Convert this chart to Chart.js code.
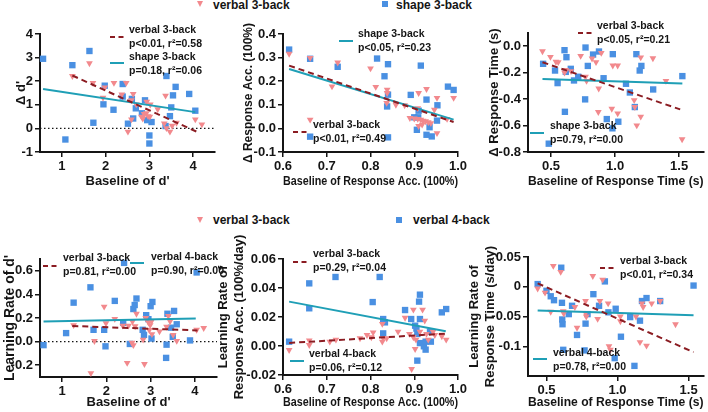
<!DOCTYPE html>
<html>
<head>
<meta charset="utf-8">
<script src="https://cdn.jsdelivr.net/npm/chart.js@4.4.0/dist/chart.umd.min.js"></script>
<style>
  body { margin: 0; background: #fff; width: 708px; height: 412px; position: relative; overflow: hidden;
         font-family: "Liberation Sans", Arial, sans-serif; }
  canvas { position: absolute; left: 0; top: 0; }
  .key { position: absolute; font-size: 12px; font-weight: bold; color: #151515; line-height: 14px; white-space: nowrap; }
  .tri { position: absolute; width: 0; height: 0; border-left: 3.6px solid transparent;
         border-right: 3.6px solid transparent; border-top: 6px solid #f2898d; }
  .sq { position: absolute; width: 6px; height: 6px; background: #4a90e2; }
</style>
</head>
<body>
<!-- legends -->
<div class="tri" style="left:197px;top:1px"></div>
<div class="key" style="left:213px;top:-2px">verbal 3-back</div>
<div class="sq" style="left:382px;top:1px"></div>
<div class="key" style="left:396px;top:-2px">shape 3-back</div>
<div class="tri" style="left:197px;top:217px"></div>
<div class="key" style="left:213px;top:213px">verbal 3-back</div>
<div class="sq" style="left:396px;top:217px"></div>
<div class="key" style="left:413px;top:213px">verbal 4-back</div>

<canvas id="c1" width="708" height="412"></canvas>
<canvas id="c2" width="708" height="412"></canvas>
<canvas id="c3" width="708" height="412"></canvas>
<canvas id="c4" width="708" height="412"></canvas>
<canvas id="c5" width="708" height="412"></canvas>
<canvas id="c6" width="708" height="412"></canvas>

<script>
// ---------- panel 1: delta d' vs baseline d'
const d1Verbal = [[1.63,2.76],[1.24,2.22],[1.71,1.93],[1.98,1.74],[1.94,1.30],[2.19,1.93],[2.47,1.93],[2.37,1.44],
  [2.63,1.46],[2.59,1.20],[2.70,1.02],[2.94,1.13],[3.02,1.01],[3.19,0.81],[2.51,-0.14],[2.59,0.38],[2.82,0.50],
  [2.88,0.61],[2.93,0.64],[2.97,0.52],[2.85,0.42],[3.01,0.50],[3.37,1.39],[3.34,0.21],[3.39,0.01],[3.47,-0.14],
  [3.52,0.11],[3.62,0.24],[4.05,0.38],[4.20,0.17]];
const d1Shape = [[0.57,2.95],[1.63,3.28],[1.24,2.68],[1.08,-0.47],[1.72,0.24],[1.98,1.81],[1.95,1.02],[2.18,0.79],
  [2.39,1.88],[2.39,1.35],[2.60,1.25],[2.63,0.42],[2.51,0.20],[2.69,0.85],[2.90,1.19],[2.83,0.64],[2.95,0.35],
  [3.05,0.27],[3.00,-0.30],[3.00,-0.64],[3.39,2.22],[3.60,1.76],[3.54,1.40],[3.50,0.89],[3.47,0.52],[3.37,0.10],
  [3.91,1.46],[4.05,0.75]];
const d1VerbalFit = [[1.24,2.24],[4.13,-0.18]];
const d1ShapeFit = [[0.57,1.67],[4.05,0.69]];
const d1VerbalStat = ['verbal 3-back', 'p<0.01, r\u00b2=0.58'];
const d1ShapeStat = ['shape 3-back', 'p=0.18, r\u00b2=0.06'];
const d1XTicks = [1, 2, 3, 4];
const d1YTicks = [-1, 0, 1, 2, 3, 4];
const d1YLabels = ['-1', '0', '1', '2', '3', '4'];

// ---------- panel 2: delta accuracy vs baseline accuracy
const d2Verbal = [[0.614,0.316],[0.662,0.299],[0.725,0.279],[0.712,0.178],[0.800,0.254],[0.812,0.176],[0.838,0.164],
  [0.838,0.150],[0.837,0.108],[0.858,0.100],[0.878,0.098],[0.908,0.086],[0.910,0.150],[0.928,0.167],[0.952,0.129],
  [0.990,0.129],[0.946,0.079],[0.890,0.044],[0.900,0.042],[0.908,0.040],[0.915,0.037],[0.920,0.033],[0.926,0.030],
  [0.932,0.026],[0.938,0.022],[0.910,0.010],[0.918,0.016],[0.952,-0.020],[0.662,0.037],[0.975,0.040]];
const d2Shape = [[0.614,0.334],[0.662,0.295],[0.725,0.261],[0.815,0.296],[0.840,0.272],[0.832,0.221],[0.840,0.143],
  [0.838,0.093],[0.840,-0.038],[0.662,-0.035],[0.892,0.142],[0.915,0.266],[0.928,0.122],[0.953,0.098],[0.977,0.177],
  [0.990,0.163],[0.910,0.075],[0.900,0.047],[0.909,0.047],[0.906,-0.006],[0.928,-0.027],[0.940,-0.034],[0.952,0.033],
  [0.935,0.005]];
const d2VerbalFit = [[0.614,0.266],[0.99,0.027]];
const d2ShapeFit = [[0.614,0.252],[0.99,0.037]];
const d2VerbalStat = ['verbal 3-back', 'p<0.01, r\u00b2=0.49'];
const d2ShapeStat = ['shape 3-back', 'p<0.05, r\u00b2=0.23'];
const accXTicks = [0.6, 0.7, 0.8, 0.9, 1.0];
const accXLabels = ['0.6', '0.7', '0.8', '0.9', '1.0'];
const d2YTicks = [-0.1, 0, 0.1, 0.2, 0.3, 0.4];
const d2YLabels = ['-0.1', '0.0', '0.1', '0.2', '0.3', '0.4'];

// ---------- panel 3: delta response time vs baseline response time
const d3Verbal = [[0.433,-0.038],[0.495,-0.081],[0.538,-0.118],[0.556,-0.121],[0.605,-0.199],[0.615,-0.179],
  [0.656,-0.189],[0.731,-0.073],[0.777,-0.262],[0.769,-0.231],[0.820,-0.093],[0.851,-0.121],[0.892,-0.050],
  [0.872,-0.320],[0.982,-0.146],[1.020,-0.146],[0.869,-0.498],[0.974,-0.473],[1.020,-0.508],[1.200,-0.085],
  [1.149,-0.408],[1.154,-0.460],[1.200,-0.533],[1.169,-0.599],[1.295,-0.091],[1.397,-0.262],[1.523,-0.704]];
const d3Shape = [[0.438,-0.133],[0.531,-0.184],[0.551,-0.279],[0.605,-0.030],[0.620,-0.083],[0.615,-0.194],
  [0.654,-0.171],[0.679,-0.259],[0.712,-0.231],[0.769,-0.010],[0.787,-0.149],[0.766,-0.402],[0.828,-0.063],
  [0.874,-0.040],[0.910,-0.242],[0.982,-0.060],[0.608,-0.496],[0.935,-0.551],[1.025,-0.571],[0.979,-0.621],
  [1.085,-0.284],[1.115,-0.350],[1.154,-0.460],[1.166,-0.060],[1.205,-0.149],[1.192,-0.184],[1.297,-0.327],
  [1.525,-0.226],[0.482,-0.737]];
const d3VerbalFit = [[0.433,-0.121],[1.508,-0.478]];
const d3ShapeFit = [[0.433,-0.247],[1.525,-0.282]];
const d3VerbalStat = ['verbal 3-back', 'p<0.05, r\u00b2=0.21'];
const d3ShapeStat = ['shape 3-back', 'p=0.79, r\u00b2=0.00'];
const rtXTicks = [0.5, 1.0, 1.5];
const rtXLabels = ['0.5', '1.0', '1.5'];
const d3YTicks = [-0.8, -0.6, -0.4, -0.2, 0];
const d3YLabels = ['-0.8', '-0.6', '-0.4', '-0.2', '0.0'];

// ---------- panel 4: learning rate of d'
const d4Verbal3 = [[1.26,0.14],[1.73,0.005],[1.65,-0.267],[1.95,0.296],[1.99,0.155],[2.19,0.193],[2.37,0.135],
  [2.47,-0.18],[2.50,0.135],[2.59,0.17],[2.65,0.13],[2.68,0.236],[2.61,-0.03],[2.58,-0.01],[2.83,0.017],
  [2.86,-0.19],[2.89,0.2],[2.95,0.164],[3.02,0.172],[2.97,0.098],[3.03,0.063],[3.2,0.086],[3.36,0.126],
  [3.4,0.218],[3.44,0.172],[3.51,0.057],[3.59,0.006],[4.04,0.1],[4.2,0.115],[2.99,0.14]];
const d4Verbal4 = [[0.58,-0.03],[1.09,0.072],[1.26,0.33],[1.64,0.46],[1.71,0.10],[1.95,0.10],[1.98,-0.04],
  [2.19,0.345],[2.38,0.16],[2.40,0.667],[2.53,-0.02],[2.61,0.276],[2.64,0.31],[2.68,0.365],[2.82,0.10],
  [2.85,0.057],[2.90,0.224],[2.95,0.19],[3.00,0.30],[3.04,0.336],[3.02,0.026],[3.38,0.236],[3.53,0.26],
  [3.59,0.147],[3.46,0.118],[3.50,0.04],[3.36,-0.026],[3.35,-0.138],[3.89,0.01],[4.04,0.586]];
const d4Verbal3Fit = [[1.23,0.132],[4.06,0.095]];
const d4Verbal4Fit = [[0.58,0.17],[4.02,0.196]];
const d4Verbal3Stat = ['verbal 3-back', 'p=0.81, r\u00b2=0.00'];
const d4Verbal4Stat = ['verbal 4-back', 'p=0.90, r\u00b2=0.00'];
const d4YTicks = [-0.2, 0, 0.2, 0.4, 0.6];
const d4YLabels = ['-0.2', '0.0', '0.2', '0.4', '0.6'];

// ---------- panel 5: learning rate of accuracy
const d5Verbal3 = [[0.614,-0.0028],[0.660,0.0007],[0.660,0.0039],[0.707,0.003],[0.721,0.0044],[0.776,0.0053],
  [0.792,0.0076],[0.802,0.006],[0.806,0.0094],[0.827,0.0152],[0.829,0.0053],[0.827,0.003],[0.837,0.0053],
  [0.863,0.0099],[0.879,0.0195],[0.889,0.0083],[0.898,0.0251],[0.898,0.006],[0.904,0.0044],[0.894,-0.0159],
  [0.902,-0.0021],[0.913,0.0099],[0.919,0.0251],[0.924,0.0175],[0.928,0.0083],[0.932,0.0044],[0.943,0.0099],
  [0.963,0.0067],[0.973,0.0044],[0.947,0.0076]];
const d5Verbal4 = [[0.614,0.003],[0.660,0.0432],[0.660,0.026],[0.720,0.0476],[0.821,0.0476],[0.805,0.0303],
  [0.829,0.0186],[0.833,0.0163],[0.829,0.0087],[0.879,0.0248],[0.893,0.0186],[0.902,0.014],[0.913,0.0354],
  [0.911,0.0306],[0.913,0.0186],[0.907,0.0083],[0.913,0.002],[0.922,-0.0002],[0.926,-0.0025],[0.938,0.003],
  [0.926,0.003],[0.907,-0.0101],[0.936,0.0099],[0.963,0.0232],[0.973,0.0255],[0.905,0.012]];
const d5Verbal3Fit = [[0.614,0.0021],[0.97,0.0085]];
const d5Verbal4Fit = [[0.614,0.0306],[0.972,0.0101]];
const d5Verbal3Stat = ['verbal 3-back', 'p=0.29, r\u00b2=0.04'];
const d5Verbal4Stat = ['verbal 4-back', 'p=0.06, r\u00b2=0.12'];
const d5YTicks = [-0.02, 0, 0.02, 0.04, 0.06];
const d5YLabels = ['-0.02', '0.00', '0.02', '0.04', '0.06'];

// ---------- panel 6: learning rate of response time
const d6Verbal3 = [[0.438,-0.003],[0.49,-0.010],[0.53,-0.042],[0.548,0.035],[0.60,0.025],[0.618,-0.041],
  [0.622,-0.045],[0.715,-0.069],[0.775,-0.024],[0.775,-0.044],[0.78,-0.05],[0.826,0.018],[0.876,-0.024],
  [0.895,0.012],[0.934,-0.028],[0.94,-0.10],[0.95,-0.106],[1.02,-0.058],[1.02,-0.050],[1.13,-0.05],
  [1.158,-0.093],[1.172,-0.028],[1.204,-0.099],[1.18,-0.034],[1.30,-0.024],[1.408,-0.063],[0.86,-0.054],
  [0.70,-0.034],[1.24,-0.028]];
const d6Verbal4 = [[0.438,0.0045],[0.50,-0.0068],[0.53,-0.016],[0.553,-0.0226],[0.604,0.032],[0.609,-0.027],
  [0.611,-0.055],[0.613,-0.063],[0.657,-0.046],[0.68,-0.032],[0.715,-0.081],[0.775,-0.062],[0.789,-0.046],
  [0.83,-0.0125],[0.911,0.009],[0.936,-0.043],[0.987,-0.037],[1.024,-0.084],[1.089,-0.051],[1.158,-0.057],
  [1.172,-0.024],[1.204,-0.019],[1.30,-0.024],[1.535,0.002],[0.768,-0.107],[0.618,-0.106],[0.98,-0.12],
  [1.119,-0.133],[0.87,-0.032]];
const d6Verbal3Fit = [[0.438,0.0057],[1.535,-0.110]];
const d6Verbal4Fit = [[0.438,-0.040],[1.535,-0.048]];
const d6Verbal3Stat = ['verbal 3-back', 'p<0.01, r\u00b2=0.34'];
const d6Verbal4Stat = ['verbal 4-back', 'p=0.78, r\u00b2=0.00'];
const d6YTicks = [-0.1, -0.05, 0, 0.05];
const d6YLabels = ['-0.1', '-0.05', '0', '0.05'];

const PINK = '#f2898d', BLUE = '#4a90e2', TEAL = '#1f9fb6', DRED = '#8b1c22', INK = '#151515';
const FONT = '"Liberation Sans", Arial, sans-serif';
Chart.defaults.font.family = FONT;

function xy(a) { return a.map(p => ({ x: p[0], y: p[1] })); }

// zero reference line + in-plot fit labels
const notePlugin = {
  id: 'notes',
  beforeDatasetsDraw(chart, args, o) {
    if (!o.zero) return;
    const ctx = chart.ctx, a = chart.chartArea, y = chart.scales.y.getPixelForValue(0);
    ctx.save();
    ctx.strokeStyle = INK; ctx.lineWidth = 1.2; ctx.setLineDash([1.5, 2.5]);
    ctx.beginPath(); ctx.moveTo(a.left, y); ctx.lineTo(a.right, y); ctx.stroke();
    ctx.restore();
  },
  afterDatasetsDraw(chart, args, o) {
    const ctx = chart.ctx;
    ctx.save();
    (o.items || []).forEach(n => {
      ctx.strokeStyle = n.dash ? DRED : TEAL;
      ctx.lineWidth = 2;
      ctx.setLineDash(n.dash ? [5, 3.5] : []);
      ctx.beginPath(); ctx.moveTo(n.sx, n.sy); ctx.lineTo(n.sx + 14, n.sy); ctx.stroke();
      ctx.setLineDash([]);
      ctx.fillStyle = INK;
      ctx.font = 'bold 10.5px ' + FONT;
      ctx.textBaseline = 'middle'; ctx.textAlign = 'left';
      n.text.forEach((t, i) => ctx.fillText(t, n.tx, n.ty + i * 14.5));
    });
    ctx.restore();
  }
};

function axis(range, ticks, labels, title, titleSize, fitSize, horizontal) {
  return {
    type: 'linear', min: range[0], max: range[1],
    afterBuildTicks: s => { s.ticks = ticks.map(v => ({ value: v })); },
    afterFit: s => { if (horizontal) s.height = fitSize; else s.width = fitSize; },
    ticks: { callback: (v, i) => labels[i], color: INK, font: { size: 13, weight: 'bold' },
             padding: 2, maxRotation: 0, autoSkip: false },
    grid: { display: true, drawOnChartArea: false, drawTicks: true, tickLength: 5, color: INK, lineWidth: 1.5 },
    border: { display: true, color: INK, width: 2 },
    title: { display: true, text: title, color: INK, font: { size: titleSize, weight: 'bold' }, padding: 0 }
  };
}

function makePanel(id, p) {
  const [L, T, R, B] = p.box;
  new Chart(document.getElementById(id), {
    type: 'scatter',
    data: {
      datasets: [
        { data: xy(p.triFit), showLine: true, borderColor: DRED, borderWidth: 2, borderDash: [6, 4],
          pointRadius: 0, order: 0, clip: false },
        { data: xy(p.sqFit), showLine: true, borderColor: TEAL, borderWidth: 2,
          pointRadius: 0, order: 0, clip: false },
        { data: xy(p.tri), pointStyle: 'triangle', rotation: 180, pointRadius: 3.9, borderWidth: 0,
          backgroundColor: PINK, order: 1, clip: false },
        { data: xy(p.sq), pointStyle: 'rect', pointRadius: 4.5, borderWidth: 0,
          backgroundColor: BLUE, order: 2, clip: false }
      ]
    },
    options: {
      responsive: false, animation: false, devicePixelRatio: 1,
      layout: { padding: { left: L - p.yw, top: T, right: 708 - R, bottom: 412 - B - p.xh } },
      scales: {
        x: axis(p.xr, p.xt, p.xl, p.xTitle, 13, p.xh, true),
        y: axis(p.yr, p.yt, p.yl, p.yTitle, p.yTitleSize || 13, p.yw, false)
      },
      plugins: { legend: { display: false }, tooltip: { enabled: false },
                 notes: { zero: p.zero, items: p.notes } }
    },
    plugins: [notePlugin]
  });
}

makePanel('c1', {
  box: [40, 34, 215, 152], yw: 26, xh: 37,
  xr: [0.5, 4.5], xt: d1XTicks, xl: d1XTicks.map(String), yr: [-1, 4], yt: d1YTicks, yl: d1YLabels,
  xTitle: "Baseline of d'", yTitle: "\u0394 d'",
  tri: d1Verbal, sq: d1Shape, triFit: d1VerbalFit, sqFit: d1ShapeFit, zero: true,
  notes: [{ dash: true, sx: 110, sy: 37, tx: 129, ty: 30, text: d1VerbalStat },
          { dash: false, sx: 110, sy: 63, tx: 129, ty: 57, text: d1ShapeStat }]
});
makePanel('c2', {
  box: [283, 34, 458, 152], yw: 42, xh: 37,
  xr: [0.6, 1.0], xt: accXTicks, xl: accXLabels, yr: [-0.1, 0.4], yt: d2YTicks, yl: d2YLabels,
  xTitle: 'Baseline of Response Acc. (100%)', yTitle: '\u0394 Response Acc. (100%)', yTitleSize: 12,
  tri: d2Verbal, sq: d2Shape, triFit: d2VerbalFit, sqFit: d2ShapeFit,
  notes: [{ dash: false, sx: 339, sy: 41, tx: 358, ty: 34, text: d2ShapeStat },
          { dash: true, sx: 293, sy: 132, tx: 313, ty: 125, text: d2VerbalStat }]
});
makePanel('c3', {
  box: [528, 33, 706, 152], yw: 41, xh: 37,
  xr: [0.32, 1.69], xt: rtXTicks, xl: rtXLabels, yr: [-0.8, 0.1], yt: d3YTicks, yl: d3YLabels,
  xTitle: 'Baseline of Response Time (s)', yTitle: '\u0394 Response Time (s)',
  tri: d3Verbal, sq: d3Shape, triFit: d3VerbalFit, sqFit: d3ShapeFit,
  notes: [{ dash: true, sx: 578, sy: 33, tx: 597, ty: 26, text: d3VerbalStat },
          { dash: false, sx: 530, sy: 133, tx: 550, ty: 126, text: d3ShapeStat }]
});
makePanel('c4', {
  box: [40, 259, 217, 377], yw: 38, xh: 33,
  xr: [0.5, 4.5], xt: d1XTicks, xl: d1XTicks.map(String), yr: [-0.3, 0.7], yt: d4YTicks, yl: d4YLabels,
  xTitle: "Baseline of d'", yTitle: "Learning Rate of d'", yTitleSize: 14,
  tri: d4Verbal3, sq: d4Verbal4, triFit: d4Verbal3Fit, sqFit: d4Verbal4Fit, zero: true,
  notes: [{ dash: true, sx: 43, sy: 266, tx: 63, ty: 258, text: d4Verbal3Stat },
          { dash: false, sx: 130, sy: 263, tx: 151, ty: 257, text: d4Verbal4Stat }]
});
makePanel('c5', {
  box: [283, 259, 458, 375], yw: 67, xh: 35,
  xr: [0.6, 1.0], xt: accXTicks, xl: accXLabels, yr: [-0.02, 0.06], yt: d5YTicks, yl: d5YLabels,
  xTitle: 'Baseline of Response Acc. (100%)', yTitle: ['Learning Rate of', 'Response Acc. (100%/day)'],
  tri: d5Verbal3, sq: d5Verbal4, triFit: d5Verbal3Fit, sqFit: d5Verbal4Fit,
  notes: [{ dash: true, sx: 293, sy: 262, tx: 313, ty: 254, text: d5Verbal3Stat },
          { dash: false, sx: 290, sy: 361, tx: 309, ty: 354, text: d5Verbal4Stat }]
});
makePanel('c6', {
  box: [528, 257, 707, 376], yw: 61, xh: 34,
  xr: [0.37, 1.605], xt: rtXTicks, xl: rtXLabels, yr: [-0.15, 0.05], yt: d6YTicks, yl: d6YLabels,
  xTitle: 'Baseline of Response Time (s)', yTitle: ['Learning Rate of', 'Response Time (s/day)'],
  tri: d6Verbal3, sq: d6Verbal4, triFit: d6Verbal3Fit, sqFit: d6Verbal4Fit,
  notes: [{ dash: true, sx: 600, sy: 268, tx: 620, ty: 261, text: d6Verbal3Stat },
          { dash: false, sx: 533, sy: 359, tx: 553, ty: 353, text: d6Verbal4Stat }]
});
</script>
</body>
</html>
